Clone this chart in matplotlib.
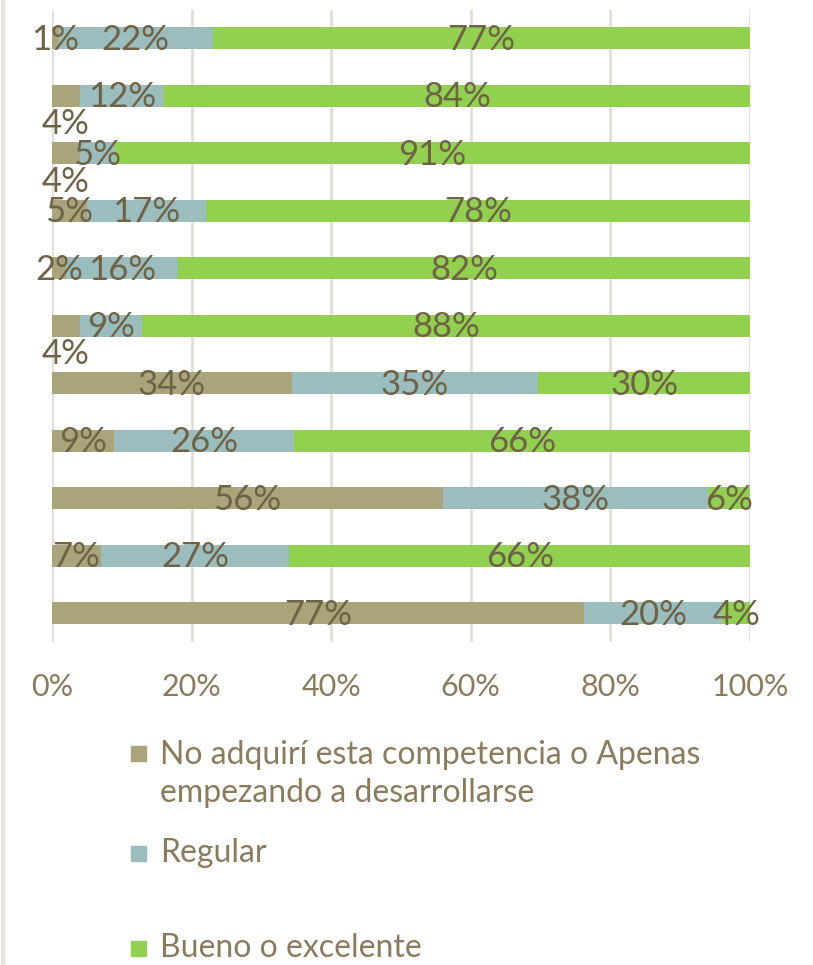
import matplotlib.pyplot as plt
from matplotlib.patches import Rectangle
from matplotlib.lines import Line2D
import numpy as np

plt.rcParams['font.family'] = ['Lato', 'DejaVu Sans']

# values shown in the chart, top bar first
no_adq = [1, 4, 4, 5, 2, 4, 34, 9, 56, 7, 77]
regular = [22, 12, 5, 17, 16, 9, 35, 26, 38, 27, 20]
bueno = [77, 84, 91, 78, 82, 88, 30, 66, 6, 66, 4]
series_names = ["No adquirí esta competencia o Apenas\nempezando a desarrollarse",
                "Regular", "Bueno o excelente"]
xticks = [0, 20, 40, 60, 80, 100]

colors = ['#a9a47a', '#9cbdbd', '#92d050']
lab_col = '#6e6247'
tick_col = '#8a7b5c'

# labels that Excel pushed below the bar (series, row)
moved = [(0, 1), (0, 2), (0, 5)]

W, H = 813, 965
fig = plt.figure(figsize=(W/100, H/100), dpi=100)
ax = fig.add_axes([52/W, 1-642/H, 698/W, 632.5/H])

data = np.array([no_adq, regular, bueno], dtype=float)
tot = data.sum(axis=0)
pct = data / tot * 100
y = np.arange(len(no_adq))
left = np.zeros(len(no_adq))
for s in range(3):
    ax.barh(y, pct[s], left=left, height=0.39, color=colors[s], zorder=2)
    for i in range(len(y)):
        yy = y[i] + (0.5 if (s, i) in moved else 0.03)
        ax.text(left[i] + pct[s][i]/2, yy, f"{int(data[s][i])}%", ha='center', va='center',
                fontsize=25, color=lab_col, zorder=3)
    left += pct[s]

ax.set_xlim(0, 100)
ax.set_ylim(10.5, -0.5)
ax.set_xticks(xticks)
ax.set_xticklabels([f"{t}%" for t in xticks])
ax.set_yticks([])
ax.tick_params(axis='x', length=0, pad=22, labelsize=22, labelcolor=tick_col)
ax.grid(axis='x', color='#e2dfd8', linewidth=2, zorder=0)
for sp in ax.spines.values():
    sp.set_visible(False)

# left border line of the chart area
fig.add_artist(Line2D([3/W, 3/W], [0, 1], color='#e6e3dc', linewidth=3))

# legend drawn by hand (uneven spacing like the original)
leg_y = [774, 853, 948]
for s in range(3):
    fig.add_artist(Rectangle((131/W, 1-(leg_y[s] if s else 753)/H - 7.5/H), 15/W, 15/H,
                             color=colors[s], transform=fig.transFigure))
    fig.text(160/W, 1-leg_y[s]/H, series_names[s], ha='left', va='center',
             fontsize=23, color=tick_col, linespacing=1.3)

fig.savefig("out.png", dpi=100)
